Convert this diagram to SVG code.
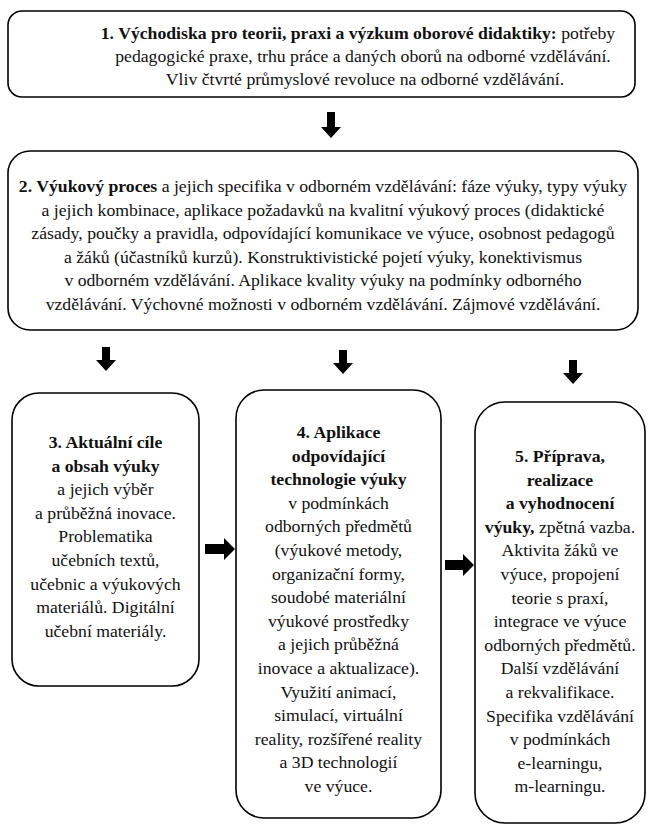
<svg xmlns="http://www.w3.org/2000/svg" width="649" height="825" viewBox="0 0 649 825">
<style>
.box{fill:#fff;stroke:#000;stroke-width:1.6}
.t text{font-size:17.7px;fill:#111;text-anchor:middle}
.b{font-weight:bold}
.arr{fill:#000}
</style>
<rect width="649" height="825" fill="#fff"/>
<g class="t" font-family="Liberation Serif, Times New Roman, Times, serif">
<g id="node1">
<rect class="box" x="8" y="11" width="627" height="86" rx="14"/>
<text x="358" y="39"><tspan class="b">1. Východiska pro teorii, praxi a výzkum oborové didaktiky:</tspan> potřeby</text>
<text x="363" y="62">pedagogické praxe, trhu práce a daných oborů na odborné vzdělávání.</text>
<text x="365" y="85">Vliv čtvrté průmyslové revoluce na odborné vzdělávání.</text>
</g>
<g id="node2">
<rect class="box" x="8" y="151" width="630" height="179" rx="22"/>
<text x="323" y="192"><tspan class="b">2. Výukový proces</tspan> a jejich specifika v odborném vzdělávání: fáze výuky, typy výuky</text>
<text x="323" y="215.5">a jejich kombinace, aplikace požadavků na kvalitní výukový proces (didaktické</text>
<text x="323" y="239">zásady, poučky a pravidla, odpovídající komunikace ve výuce, osobnost pedagogů</text>
<text x="323" y="262.5">a žáků (účastníků kurzů). Konstruktivistické pojetí výuky, konektivismus</text>
<text x="323" y="286">v odborném vzdělávání. Aplikace kvality výuky na podmínky odborného</text>
<text x="323" y="309.5">vzdělávání. Výchovné možnosti v odborném vzdělávání. Zájmové vzdělávání.</text>
</g>
<g id="node3">
<rect class="box" x="12" y="393" width="187" height="293" rx="27"/>
<text x="105.5" y="448" class="b">3. Aktuální cíle</text>
<text x="105.5" y="471.6" class="b">a obsah výuky</text>
<text x="105.5" y="495.2">a jejich výběr</text>
<text x="105.5" y="518.8">a průběžná inovace.</text>
<text x="105.5" y="542.4">Problematika</text>
<text x="105.5" y="566">učebních textů,</text>
<text x="105.5" y="589.6">učebnic a výukových</text>
<text x="105.5" y="613.2">materiálů. Digitální</text>
<text x="105.5" y="636.8">učební materiály.</text>
</g>
<g id="node4">
<rect class="box" x="236" y="390" width="205" height="428" rx="28"/>
<text x="338.5" y="438" class="b">4. Aplikace</text>
<text x="338.5" y="461.6" class="b">odpovídající</text>
<text x="338.5" y="485.2" class="b">technologie výuky</text>
<text x="338.5" y="508.8">v podmínkách</text>
<text x="338.5" y="532.4">odborných předmětů</text>
<text x="338.5" y="556">(výukové metody,</text>
<text x="338.5" y="579.6">organizační formy,</text>
<text x="338.5" y="603.2">soudobé materiální</text>
<text x="338.5" y="626.8">výukové prostředky</text>
<text x="338.5" y="650.4">a jejich průběžná</text>
<text x="338.5" y="674">inovace a aktualizace).</text>
<text x="338.5" y="697.6">Využití animací,</text>
<text x="338.5" y="721.2">simulací, virtuální</text>
<text x="338.5" y="744.8">reality, rozšířené reality</text>
<text x="338.5" y="768.4">a 3D technologií</text>
<text x="338.5" y="792">ve výuce.</text>
</g>
<g id="node5">
<rect class="box" x="475" y="402" width="170" height="421" rx="30"/>
<text x="560" y="462" class="b">5. Příprava,</text>
<text x="560" y="485.6" class="b">realizace</text>
<text x="560" y="509.2" class="b">a vyhodnocení</text>
<text x="560" y="532.8"><tspan class="b">výuky,</tspan> zpětná vazba.</text>
<text x="560" y="556.4">Aktivita žáků ve</text>
<text x="560" y="580">výuce, propojení</text>
<text x="560" y="603.6">teorie s praxí,</text>
<text x="560" y="627.2">integrace ve výuce</text>
<text x="560" y="650.8">odborných předmětů.</text>
<text x="560" y="674.4">Další vzdělávání</text>
<text x="560" y="698">a rekvalifikace.</text>
<text x="560" y="721.6">Specifika vzdělávání</text>
<text x="560" y="745.2">v podmínkách</text>
<text x="560" y="768.8">e-learningu,</text>
<text x="560" y="792.4">m-learningu.</text>
</g>
</g>
<g id="connectors">
<path class="arr" d="M327 112H335V127H341L331 138L321 127H327Z"/>
<path class="arr" d="M102 347H110V360H116L106 371L96 360H102Z"/>
<path class="arr" d="M339 350H347V363H353L343 374L333 363H339Z"/>
<path class="arr" d="M569 360H577V373H583L573 384L563 373H569Z"/>
<path class="arr" d="M205 544H224V538L235 549L224 560V554H205Z"/>
<path class="arr" d="M445 560H463V554L474 565L463 576V570H445Z"/>
</g>
</svg>
